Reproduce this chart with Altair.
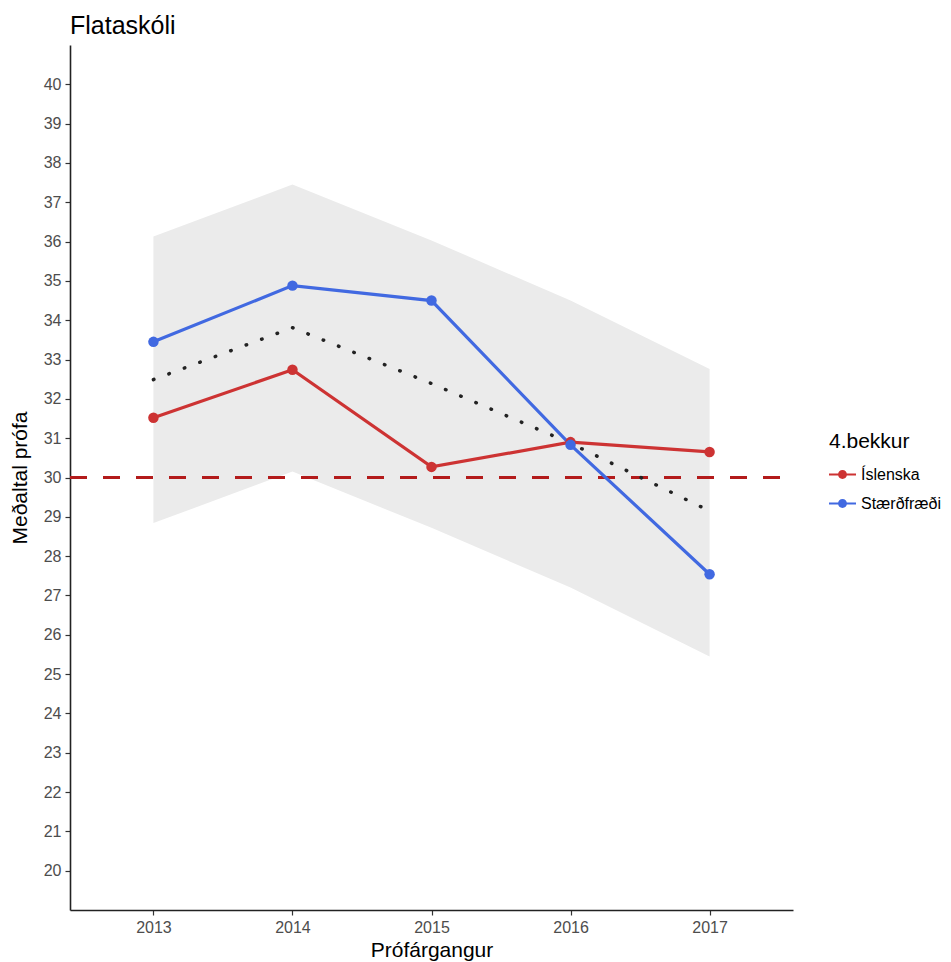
import altair as alt
import pandas as pd

# ---- data ----
years = [2013, 2014, 2015, 2016, 2017]
series_names = ["Íslenska", "Stærðfræði"]
islenska = [31.52, 32.74, 30.27, 30.90, 30.65]
staerdfraedi = [33.45, 34.88, 34.50, 30.83, 27.54]
medaltal = [32.49, 33.81, 32.39, 30.87, 29.15]
band_lower = [28.84, 30.15, 28.72, 27.20, 25.45]
band_upper = [36.13, 37.45, 36.03, 34.50, 32.76]
reference_line = [30]
y_ticks = list(range(20, 41))
x_ticks = years

FONT = "Liberation Sans"
RED = "#CD3333"
BLUE = "#4169E1"
DASH_RED = "#B31B1B"
W, H = 723, 865

lines_df = pd.DataFrame({
    "Prófárgangur": years * 2,
    "value": islenska + staerdfraedi,
    "series": [series_names[0]] * len(years) + [series_names[1]] * len(years),
})
mean_df = pd.DataFrame({"Prófárgangur": years, "value": medaltal})
band_df = pd.DataFrame({"Prófárgangur": years, "lower": band_lower, "upper": band_upper})
ref_df = pd.DataFrame({"value": reference_line})

x_scale = alt.Scale(domain=[2012.4, 2017.6], nice=False, zero=False)
y_scale = alt.Scale(domain=[19, 41], nice=False, zero=False)

x_axis = alt.Axis(
    values=x_ticks, format="d", title="Prófárgangur",
    labelFontSize=16, labelColor="#4D4D4D", labelFont=FONT,
    titleFontSize=21, titleFont=FONT, titleFontWeight="normal", titleColor="black",
    tickSize=5, tickColor="#333333", tickWidth=1.2,
    domainColor="#222222", domainWidth=1.6,
    labelPadding=4, titlePadding=4, grid=False,
)
y_axis = alt.Axis(
    values=y_ticks, format="d", title="Meðaltal prófa",
    labelFontSize=16, labelColor="#4D4D4D", labelFont=FONT,
    titleFontSize=21, titleFont=FONT, titleFontWeight="normal", titleColor="black",
    tickSize=5, tickColor="#333333", tickWidth=1.2,
    domainColor="#222222", domainWidth=1.6,
    labelPadding=4, titlePadding=13, grid=False,
)

X = alt.X("Prófárgangur:Q", scale=x_scale, axis=x_axis)

band = alt.Chart(band_df).mark_area(color="#EBEBEB", opacity=1).encode(
    x=X,
    y=alt.Y("lower:Q", scale=y_scale, axis=y_axis),
    y2="upper:Q",
)

ref = alt.Chart(ref_df).mark_rule(
    color=DASH_RED, strokeWidth=3, strokeDash=[17, 16]
).encode(
    y=alt.Y("value:Q", scale=y_scale, axis=y_axis),
    x=alt.value(0),
    x2=alt.value(W),
)

mean_line = alt.Chart(mean_df).mark_line(
    color="#222222", strokeWidth=3.5, strokeDash=[0.5, 16], strokeCap="round"
).encode(
    x=X,
    y=alt.Y("value:Q", scale=y_scale, axis=y_axis),
)

color_scale = alt.Scale(domain=series_names, range=[RED, BLUE])

symbol_path = ("M-1,-0.08L1,-0.08L1,0.08L-1,0.08Z "
               "M-0.33,0A0.33,0.33,0,1,1,0.33,0A0.33,0.33,0,1,1,-0.33,0Z")

legend = alt.Legend(
    title="4.bekkur", orient="none", legendX=759, legendY=386,
    titleFontSize=21, titleFont=FONT, titleFontWeight="normal", titleColor="black",
    labelFontSize=16, labelFont=FONT, labelColor="black",
    symbolType=symbol_path, symbolSize=729, symbolStrokeWidth=0,
    labelOffset=5, rowPadding=7, titlePadding=9, padding=0,
)

series_lines = alt.Chart(lines_df).mark_line(strokeWidth=3.2).encode(
    x=X,
    y=alt.Y("value:Q", scale=y_scale, axis=y_axis),
    color=alt.Color("series:N", scale=color_scale, legend=legend),
)

series_points = alt.Chart(lines_df).mark_point(filled=True, size=110, opacity=1).encode(
    x=X,
    y=alt.Y("value:Q", scale=y_scale, axis=y_axis),
    color=alt.Color("series:N", scale=color_scale, legend=legend),
)

chart = alt.layer(band, ref, mean_line, series_lines, series_points).properties(
    width=W,
    height=H,
    title=alt.TitleParams(
        "Flataskóli", anchor="start", frame="group", fontSize=25, font=FONT,
        fontWeight="normal", color="black", offset=6,
    ),
    autosize=alt.AutoSizeParams(type="none"),
    padding={"left": 62, "top": 37, "right": 150, "bottom": 60},
).configure_view(stroke=None)

chart.save("out.html", embed_options={"renderer": "svg", "actions": False})
